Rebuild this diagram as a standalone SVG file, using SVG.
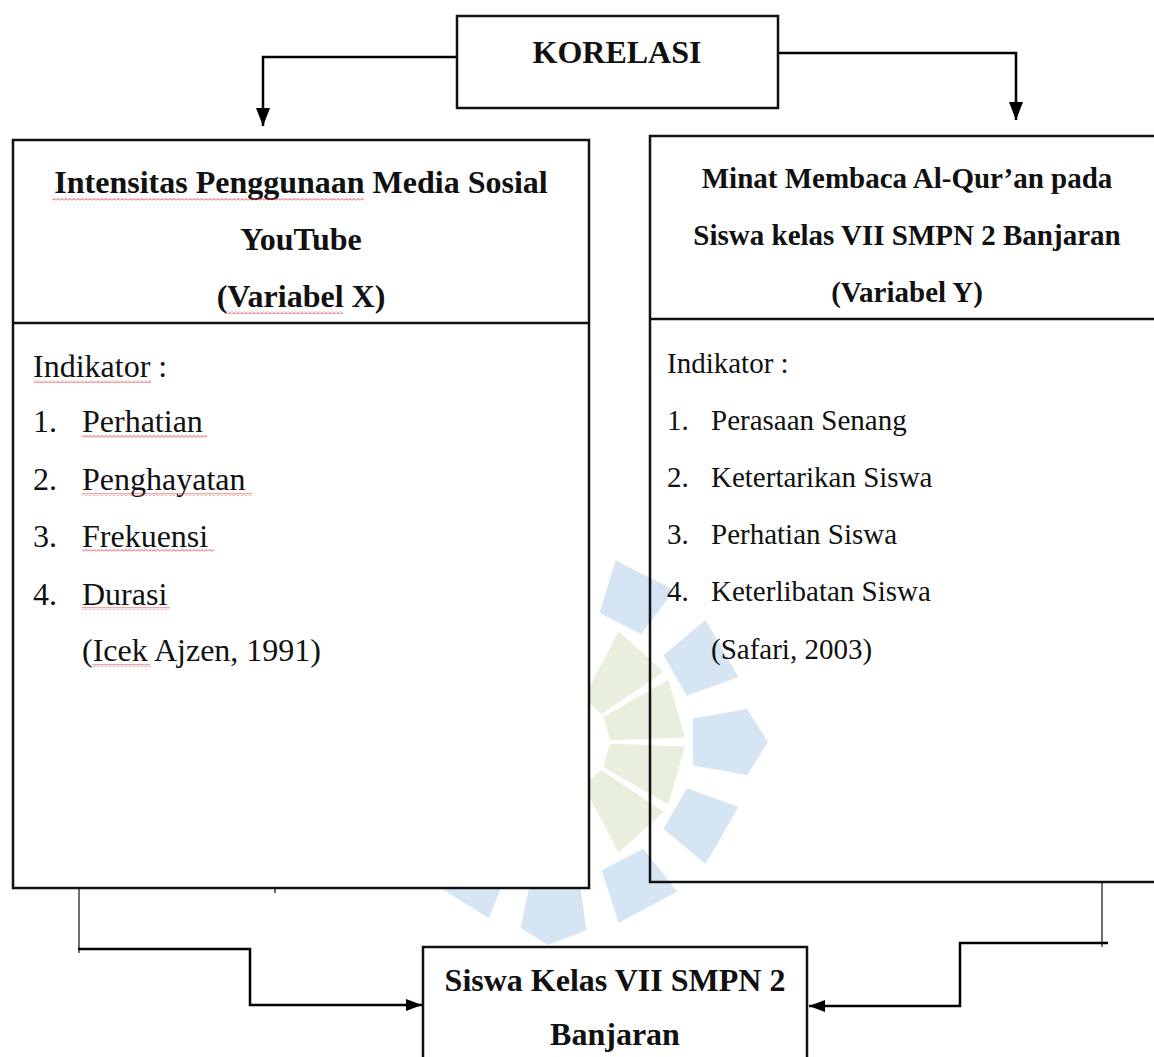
<svg xmlns="http://www.w3.org/2000/svg" width="1154" height="1057" viewBox="0 0 1154 1057">
<style>
.box{fill:#fff;stroke:#111;stroke-width:2.5}
.boxt{fill:none;stroke:#111;stroke-width:2.5}
.div{stroke:#111;stroke-width:2.5}
.tb{font-family:"Liberation Serif","Times New Roman",serif;font-weight:bold;fill:#111;text-anchor:middle}
.tl{font-family:"Liberation Serif","Times New Roman",serif;fill:#111;font-size:32px}
.tr{font-family:"Liberation Serif","Times New Roman",serif;fill:#111;font-size:29px}
.con{fill:none;stroke:#000;stroke-width:2.5}
.thin{fill:none;stroke:#222;stroke-width:1.3}
.blue{fill:#d5e5f3}
.green{fill:#e8f0dd}
.sq{fill:url(#sq)}
</style>
<defs>
<marker id="ah" viewBox="0 0 18 14" markerWidth="18" markerHeight="14" refX="18" refY="7" orient="auto" markerUnits="userSpaceOnUse">
<path d="M0,0 L18,7 L0,14 Z" fill="#000"/>
</marker>
<marker id="ahb" viewBox="0 0 16 12" markerWidth="16" markerHeight="12" refX="16" refY="6" orient="auto" markerUnits="userSpaceOnUse">
<path d="M0,0 L16,6 L0,12 Z" fill="#000"/>
</marker>
<pattern id="sq" width="4" height="3" patternUnits="userSpaceOnUse">
<path d="M0,2.5 L2,0.5 L4,2.5" stroke="#e8343a" stroke-width="0.9" fill="none"/>
</pattern>
</defs>

<rect width="1154" height="1057" fill="#fff"/>

<g id="watermark">
<polygon class="blue" points="599.5,612.9 615.6,560.3 674.3,590.3 641.2,634.2"/>
<polygon class="blue" points="663.4,655.2 705.5,619.9 738.5,677.0 686.9,695.8"/>
<polygon class="blue" points="692.9,718.6 747.1,709.0 768,742 747.1,775.0 692.9,765.4"/>
<polygon class="blue" points="686.9,788.2 738.5,807.0 705.5,864.1 663.4,828.8"/>
<polygon class="blue" points="643.1,848.4 677.0,891.7 618.7,922.7 601.7,870.4"/>
<polygon class="blue" points="578.8,875.7 586.4,930.2 548,945 520.5,927.8 531.9,874.0"/>
<polygon class="blue" points="509.4,867.2 488.8,918.2 432.9,883.2 469.7,842.3"/>
<polygon class="green" points="583.5,697.9 618.7,631.6 663.6,672.1 601.5,714.0"/>
<polygon class="green" points="603.3,717.0 668.3,679.5 684.9,737.6 610.0,740.3"/>
<polygon class="green" points="610.0,743.7 684.9,746.4 668.3,804.5 603.3,767.0"/>
<polygon class="green" points="601.5,770.0 663.6,811.9 618.7,852.4 583.5,786.1"/>
</g>

<g id="connectors">
<path class="con" d="M457,57 H263 V126" marker-end="url(#ah)"/>
<path class="con" d="M778,53 H1016 V120" marker-end="url(#ah)"/>
<path class="thin" d="M79,888 V953"/>
<path class="thin" d="M275,888 V893"/>
<path class="con" d="M78,949 H250 V1005 H422" marker-end="url(#ahb)"/>
<path class="thin" d="M1102,882 V947"/>
<path class="con" d="M1108,943 H960 V1006 H809" marker-end="url(#ahb)"/>
</g>

<g id="node-korelasi">
<rect class="box" x="457" y="16" width="321" height="92"/>
<text class="tb" x="617" y="63" font-size="32">KORELASI</text>
</g>

<g id="node-x">
<rect class="box" x="13" y="140" width="576" height="748"/>
<line class="div" x1="13" y1="323" x2="589" y2="323"/>
<text class="tb" x="301" y="193" font-size="32">Intensitas Penggunaan Media Sosial</text>
<text class="tb" x="301" y="250" font-size="32">YouTube</text>
<text class="tb" x="301" y="307" font-size="32">(Variabel X)</text>
<rect class="sq" x="52" y="198" width="312" height="3"/>
<rect class="sq" x="226" y="311" width="117" height="3"/>
<text class="tl" x="33" y="377">Indikator :</text>
<text class="tl" x="33" y="432">1.</text><text class="tl" x="82" y="432">Perhatian</text>
<text class="tl" x="33" y="490">2.</text><text class="tl" x="82" y="490">Penghayatan</text>
<text class="tl" x="33" y="547">3.</text><text class="tl" x="82" y="547">Frekuensi</text>
<text class="tl" x="33" y="605">4.</text><text class="tl" x="82" y="605">Durasi</text>
<text class="tl" x="82" y="661">(Icek Ajzen, 1991)</text>
<rect class="sq" x="34" y="380" width="117" height="3"/>
<rect class="sq" x="82" y="435" width="125" height="3"/>
<rect class="sq" x="82" y="493" width="170" height="3"/>
<rect class="sq" x="82" y="549" width="132" height="3"/>
<rect class="sq" x="82" y="607" width="88" height="3"/>
<rect class="sq" x="92" y="664" width="58" height="3"/>
</g>

<g id="node-y">
<rect class="boxt" x="650" y="136" width="520" height="746"/>
<line class="div" x1="650" y1="319" x2="1154" y2="319"/>
<text class="tb" x="907" y="188" font-size="29">Minat Membaca Al-Qur’an pada</text>
<text class="tb" x="907" y="245" font-size="29">Siswa kelas VII SMPN 2 Banjaran</text>
<text class="tb" x="907" y="302" font-size="29">(Variabel Y)</text>
<text class="tr" x="667" y="373">Indikator :</text>
<text class="tr" x="667" y="430">1.</text><text class="tr" x="711" y="430">Perasaan Senang</text>
<text class="tr" x="667" y="487">2.</text><text class="tr" x="711" y="487">Ketertarikan Siswa</text>
<text class="tr" x="667" y="544">3.</text><text class="tr" x="711" y="544">Perhatian Siswa</text>
<text class="tr" x="667" y="601">4.</text><text class="tr" x="711" y="601">Keterlibatan Siswa</text>
<text class="tr" x="711" y="659">(Safari, 2003)</text>
</g>

<g id="node-siswa">
<rect class="box" x="423" y="947" width="384" height="130"/>
<text class="tb" x="615" y="991" font-size="32">Siswa Kelas VII SMPN 2</text>
<text class="tb" x="615" y="1045" font-size="32">Banjaran</text>
</g>
</svg>
